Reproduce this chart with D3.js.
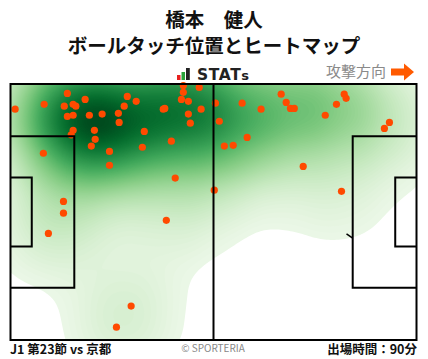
<!DOCTYPE html>
<html><head><meta charset="utf-8">
<script src="https://cdn.jsdelivr.net/npm/d3@7/dist/d3.min.js"></script>
<style>
html,body{margin:0;padding:0;background:#fff;}
svg{display:block;font-family:"Noto Sans CJK JP","Noto Sans",sans-serif;}
</style></head>
<body>
<svg id="chart" width="428" height="359"></svg>
<script>
// Ball touch positions (metres on a 105 x 68 pitch, attacking left -> right)
const touchX = [1.2,8.7,14.7,13.9,16.2,16.9,19.3,14.7,16.2,20.4,23.7,27.9,28.1,16.2,21.7,15.7,21.9,20.9,25.6,8.5,
  30.2,32.5,29.4,39.5,39.9,34.6,34.1,41.6,44.7,48.8,44.7,44.2,46.0,49.3,46.0,46.5,53.0,54.0,59.9,64.8,
  70.0,71.3,72.4,73.4,61.2,55.3,57.6,86.3,86.8,84.3,81.4,98.0,96.7,25.6,42.6,52.7,13.7,13.7,9.8,40.3,
  31.2,27.4,75.7,85.6];
const touchY = [6.7,5.4,2.5,5.9,5.4,5.9,4.1,8.6,8.3,8.3,8.0,7.8,10.2,12.3,12.3,13.5,14.7,16.5,17.9,18.4,
  3.3,4.6,5.9,6.7,6.5,12.6,16.8,15.2,0.4,0.9,2.2,4.1,4.6,6.7,8.0,10.4,5.1,9.9,5.1,6.7,
  2.7,4.9,6.5,6.5,14.2,16.5,16.3,2.7,3.8,5.4,8.3,10.2,11.8,21.6,25.0,28.2,31.2,34.3,39.7,36.2,
  59.0,64.6,21.9,28.5];
const pitchLength = 105, pitchWidth = 68;
const titleLines = ["橋本　健人", "ボールタッチ位置とヒートマップ"];
const footerLeft = "J1 第23節 vs 京都";
const footerCenter = "© SPORTERIA";
const footerRight = "出場時間：90分";
const directionLabel = "攻撃方向";

const touches = touchX.map((x,i)=>({x, y: touchY[i]}));

const svg = d3.select("#chart");
const x = d3.scaleLinear().domain([0, pitchLength]).range([10.5, 416.5]);
const y = d3.scaleLinear().domain([0, pitchWidth]).range([84, 340]);

// Titles
svg.selectAll("text.title").data(titleLines).join("text")
  .attr("class","title")
  .attr("x", 214).attr("y",(d,i)=> 27 + i*26)
  .attr("text-anchor","middle")
  .attr("font-size",19.5).attr("font-weight","bold").attr("fill","#111")
  .text(d=>d);

// STATs logo
const logo = svg.append("g").attr("transform","translate(177,68)");
logo.append("rect").attr("x",0).attr("y",7).attr("width",3.5).attr("height",5).attr("fill","#e8201e");
logo.append("rect").attr("x",4.5).attr("y",4).attr("width",3.5).attr("height",8).attr("fill","#2aa33a");
logo.append("rect").attr("x",9).attr("y",0).attr("width",3.8).attr("height",12).attr("fill","#222");
const st = logo.append("text").attr("x",20).attr("y",12).attr("font-family","'DejaVu Sans',sans-serif")
  .attr("font-weight","bold").attr("font-size",15.5).attr("fill","#222").attr("letter-spacing",0.6);
st.append("tspan").text("STAT");
st.append("tspan").attr("font-size",13).text("s");

// Direction label + arrow
svg.append("text").attr("x",386).attr("y",77).attr("text-anchor","end")
  .attr("font-size",15).attr("fill","#8a8a8a").text(directionLabel);
svg.append("path")
  .attr("d","M391,68.5 H404 V63.5 L414,72 L404,80.5 V75.5 H391 Z")
  .attr("fill","#ff5a00");

// Heat map via library density contours
const defs = svg.append("defs");
defs.append("clipPath").attr("id","pitchClip").append("rect")
  .attr("x", x(0)).attr("y", y(0)).attr("width", x(pitchLength)-x(0)).attr("height", y(pitchWidth)-y(0));

const density = d3.contourDensity()
  .x(d=>x(d.x)).y(d=>y(d.y))
  .size([428, 359])
  .cellSize(2)
  .bandwidth(34)
  .thresholds(80)(touches);
const maxV = d3.max(density, d=>d.value);
const color = v => d3.interpolateGreens(0.03 + 0.95*Math.pow(v/maxV, 0.8));

svg.append("rect").attr("x", x(0)).attr("y", y(0))
  .attr("width", x(pitchLength)-x(0)).attr("height", y(pitchWidth)-y(0)).attr("fill","#fff");
svg.append("g").attr("clip-path","url(#pitchClip)")
  .selectAll("path").data(density.filter(d=>d.value > maxV*0.02)).join("path")
  .attr("d", d3.geoPath())
  .attr("fill", d=>color(d.value));

// Touch points
svg.append("g").selectAll("circle").data(touches).join("circle")
  .attr("cx", d=>x(d.x)).attr("cy", d=>y(d.y)).attr("r",3.6)
  .attr("fill","#ff4a00");

// Pitch lines
const lines = svg.append("g").attr("fill","none").attr("stroke","#000").attr("stroke-width",2);
lines.append("rect").attr("x", x(0)).attr("y", y(0))
  .attr("width", x(pitchLength)-x(0)).attr("height", y(pitchWidth)-y(0));
lines.append("line").attr("x1", x(pitchLength/2)).attr("x2", x(pitchLength/2)).attr("y1", y(0)).attr("y2", y(pitchWidth));
const boxW = 40.3, boxD = 16.5, gW = 18.3, gD = 5.5;
const c = pitchWidth/2;
// left
lines.append("path").attr("d", `M${x(0)},${y(c-boxW/2)} H${x(boxD)} V${y(c+boxW/2)} H${x(0)}`);
lines.append("path").attr("d", `M${x(0)},${y(c-gW/2)} H${x(gD)} V${y(c+gW/2)} H${x(0)}`);
// right
lines.append("path").attr("d", `M${x(pitchLength)},${y(c-boxW/2)} H${x(pitchLength-boxD)} V${y(c+boxW/2)} H${x(pitchLength)}`);
lines.append("path").attr("d", `M${x(pitchLength)},${y(c-gW/2)} H${x(pitchLength-gD)} V${y(c+gW/2)} H${x(pitchLength)}`);
// small arc fragment
lines.append("line").attr("x1", x(86.9)).attr("y1", y(39.8)).attr("x2", x(88.4)).attr("y2", y(40.9)).attr("stroke-width",1.5);

// Footer
svg.append("text").attr("x",10).attr("y",354).attr("font-size",12.5).attr("font-weight","bold").attr("fill","#111").text(footerLeft);
svg.append("text").attr("x",213).attr("y",352).attr("text-anchor","middle").attr("font-size",10).attr("fill","#888").text(footerCenter);
svg.append("text").attr("x",417).attr("y",354).attr("text-anchor","end").attr("font-size",12.5).attr("font-weight","bold").attr("fill","#111").text(footerRight);
</script>
</body></html>
